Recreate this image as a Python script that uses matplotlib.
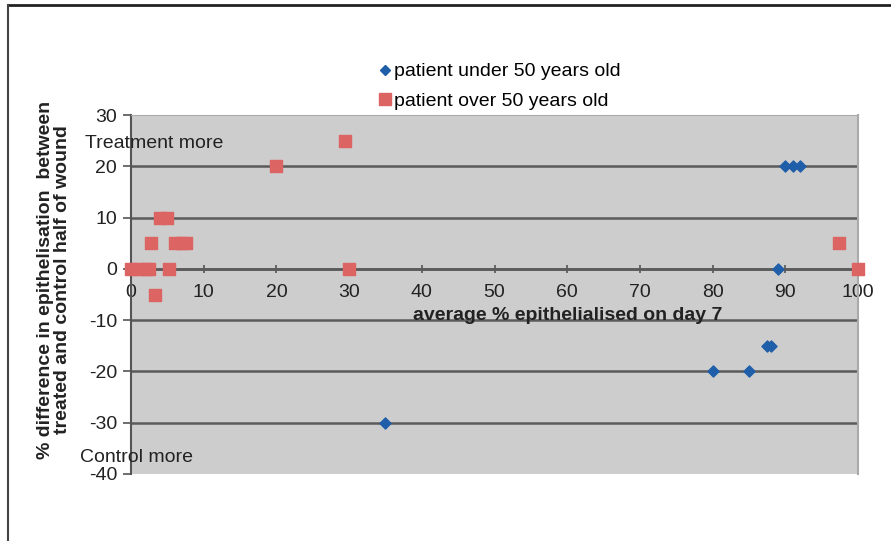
import matplotlib
matplotlib.use("Agg")
import matplotlib.pyplot as plt
from matplotlib.lines import Line2D

plt.rcParams['font.family'] = ['Liberation Sans', 'DejaVu Sans']
plt.rcParams['axes.unicode_minus'] = False

# Data
under50_x = [35, 80, 85, 87.5, 88, 89, 90, 91, 92]
under50_y = [-30, -20, -20, -15, -15, 0, 20, 20, 20]
over50_x = [0, 1, 2, 2.5, 2.8, 3.3, 4, 5, 5.2, 6, 7, 7.5, 20, 29.5, 30, 97.4, 100]
over50_y = [0, 0, 0, 0, 5, -5, 10, 10, 0, 5, 5, 5, 20, 25, 0, 5, 0]
x_ticks = list(range(0, 101, 10))
y_ticks = list(range(-40, 31, 10))
label_under = "patient under 50 years old"
label_over = "patient over 50 years old"
x_label = "average % epithelialised on day 7"
y_label = "% difference in epithelisation  between\ntreated and control half of wound"

W, H = 891, 541
fig = plt.figure(figsize=(W / 100, H / 100), dpi=100)
ax = fig.add_axes([131 / W, 1 - 474 / H, (858 - 131) / W, (474 - 115) / H])
ax.set_facecolor('#cdcdcd')
ax.set_xlim(0, 100)
ax.set_ylim(-40, 30)

for yv in [-30, -20, -10, 0, 10, 20]:
    ax.axhline(yv, color='#5a5a5a', lw=1.8, zorder=1)

ax.spines['top'].set_color('#aaaaaa')
ax.spines['right'].set_color('#aaaaaa')
ax.spines['right'].set_linewidth(1.5)
ax.spines['left'].set_color('#555555')
ax.spines['left'].set_linewidth(1.5)
ax.spines['bottom'].set_position(('data', 0))
ax.spines['bottom'].set_color('#5a5a5a')
ax.spines['bottom'].set_linewidth(1.8)

ax.set_xticks(x_ticks)
ax.set_yticks(y_ticks)
ax.tick_params(axis='x', direction='inout', length=6, width=1.2, color='#555555',
               labelsize=14, pad=8, labelcolor='#222222')
ax.tick_params(axis='y', direction='out', length=6, width=1.2, color='#555555',
               labelsize=14, pad=4, labelcolor='#222222')

ax.scatter(under50_x, under50_y, marker='D', s=32, color='#1f5ea8', zorder=3,
           label=label_under, clip_on=False)
ax.scatter(over50_x, over50_y, marker='s', s=80, color='#dc6462', zorder=3,
           label=label_over, clip_on=False)

ax.text(60, -9.0, x_label, fontsize=14, fontweight='bold', ha='center', va='center',
        color='#222222', zorder=4)
fig.text(54 / W, 1 - 280 / H, y_label, fontsize=14, fontweight='bold', rotation=90,
         ha='center', va='center', color='#222222', linespacing=1.0)

fig.text(85 / W, 1 - 143 / H, "Treatment more", fontsize=14, ha='left', va='center',
         color='#222222')
fig.text(80 / W, 1 - 457 / H, "Control more", fontsize=14, ha='left', va='center',
         color='#222222')

handles = [Line2D([], [], marker='D', color='#1f5ea8', ls='none', markersize=5),
           Line2D([], [], marker='s', color='#dc6462', ls='none', markersize=9)]
fig.legend(handles, [label_under, label_over], loc='upper left',
           bbox_to_anchor=(369 / W, 1 - 53 / H), bbox_transform=fig.transFigure,
           frameon=False, fontsize=14, handlelength=0.6, handletextpad=0.2,
           labelspacing=0.6, borderpad=0)

# outer frame lines (top and left)
fig.add_artist(Line2D([8 / W, 1], [1 - 5 / H, 1 - 5 / H], color='#222222', lw=2,
                      transform=fig.transFigure))
fig.add_artist(Line2D([8 / W, 8 / W], [0, 1 - 5 / H], color='#444444', lw=1.5,
                      transform=fig.transFigure))

fig.savefig('out.png', dpi=100)
